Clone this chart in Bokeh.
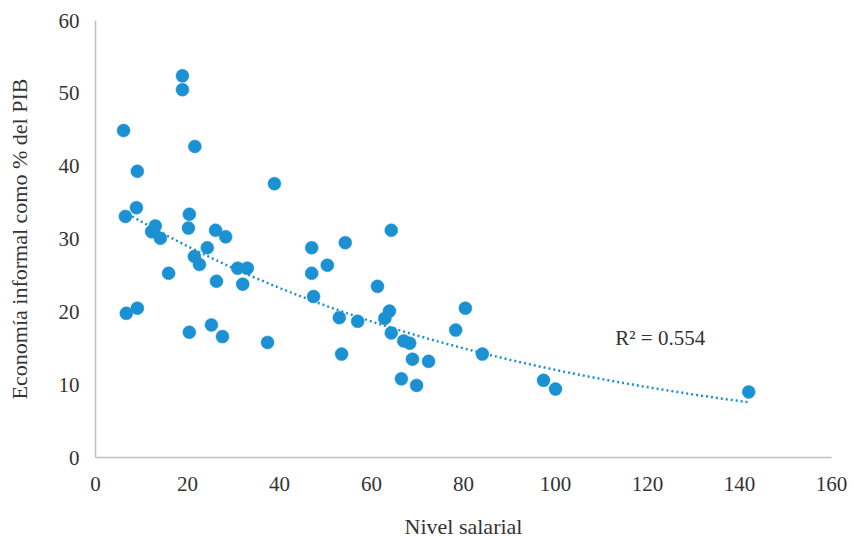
import numpy as np
from bokeh.plotting import figure
from bokeh.models import ColumnDataSource, Label, FixedTicker
from bokeh.embed import file_html
from bokeh.resources import INLINE

# ---- data ----
nivel_salarial = [6.1, 18.9, 18.9, 21.6, 9.1, 38.9, 8.9, 6.5, 20.4, 26.1,
                  20.2, 13.0, 12.2, 14.1, 28.3, 24.3, 21.5, 22.6, 15.9, 30.9,
                  33.0, 26.3, 32.0, 6.7, 9.1, 20.4, 25.2, 27.6, 37.4, 47.0,
                  54.3, 47.0, 50.4, 47.4, 53.0, 57.0, 53.5, 64.3, 61.3, 63.9,
                  62.9, 64.3, 67.0, 68.3, 68.9, 72.4, 66.5, 69.8, 80.4, 78.3,
                  84.1, 97.4, 100.0, 142.0]
economia_informal = [44.9, 52.4, 50.5, 42.7, 39.3, 37.6, 34.3, 33.1, 33.4, 31.2,
                     31.5, 31.8, 31.0, 30.1, 30.3, 28.8, 27.6, 26.5, 25.3, 26.0,
                     26.0, 24.2, 23.8, 19.8, 20.5, 17.2, 18.2, 16.6, 15.8, 28.8,
                     29.5, 25.3, 26.4, 22.1, 19.2, 18.7, 14.2, 31.2, 23.5, 20.1,
                     19.1, 17.1, 16.0, 15.7, 13.5, 13.2, 10.8, 9.9, 20.5, 17.5,
                     14.2, 10.6, 9.4, 9.0]
x_ticks = [0, 20, 40, 60, 80, 100, 120, 140, 160]
y_ticks = [0, 10, 20, 30, 40, 50, 60]
r2_text = "R\u00b2 = 0.554"

# ---- styling constants ----
FONT = "Liberation Serif"
TEXT_COLOR = "#333333"
DOT_COLOR = "#1b91d4"
AXIS_COLOR = "#bfbfbf"
R2_POS = (113.0, 14.7)

x = np.array(nivel_salarial)
y = np.array(economia_informal)

# exponential trend line (least squares on log y)
b, ln_a = np.polyfit(x, np.log(y), 1)
xt = np.linspace(x.min(), x.max(), 200)
yt = np.exp(ln_a) * np.exp(b * xt)

p = figure(width=853, height=541, output_backend="svg", toolbar_location=None,
           x_range=(0, 160), y_range=(0, 60),
           min_border_left=95, min_border_right=22, min_border_top=20,
           min_border_bottom=83)
p.outline_line_color = None
p.grid.grid_line_color = None
p.background_fill_color = "white"

p.line(xt, yt, line_color=DOT_COLOR, line_width=2.5, line_dash="2 3")
src = ColumnDataSource(dict(x=nivel_salarial, y=economia_informal))
p.scatter("x", "y", source=src, size=13, fill_color=DOT_COLOR,
          line_color=DOT_COLOR, line_width=0.5)

for ax in (p.xaxis[0], p.yaxis[0]):
    ax.axis_line_color = AXIS_COLOR
    ax.axis_line_width = 1.5
    ax.major_tick_line_color = None
    ax.minor_tick_line_color = None
    ax.major_tick_out = 0
    ax.major_tick_in = 0
    ax.major_label_text_font = FONT
    ax.major_label_text_font_size = "21px"
    ax.major_label_text_color = TEXT_COLOR
    ax.axis_label_text_font = FONT
    ax.axis_label_text_font_size = "22px"
    ax.axis_label_text_font_style = "normal"
    ax.axis_label_text_color = TEXT_COLOR

p.xaxis.ticker = FixedTicker(ticks=x_ticks)
p.yaxis.ticker = FixedTicker(ticks=y_ticks)
p.xaxis.axis_label = "Nivel salarial"
p.yaxis.axis_label = "Economía informal como % del PIB"
p.xaxis.major_label_standoff = 19
p.xaxis.axis_label_standoff = 20
p.yaxis.major_label_standoff = 16
p.yaxis.axis_label_standoff = 24

p.add_layout(Label(x=R2_POS[0], y=R2_POS[1], text=r2_text,
                   text_font=FONT, text_font_size="21px",
                   text_color=TEXT_COLOR))

open("out.html", "w").write(file_html(p, INLINE))
